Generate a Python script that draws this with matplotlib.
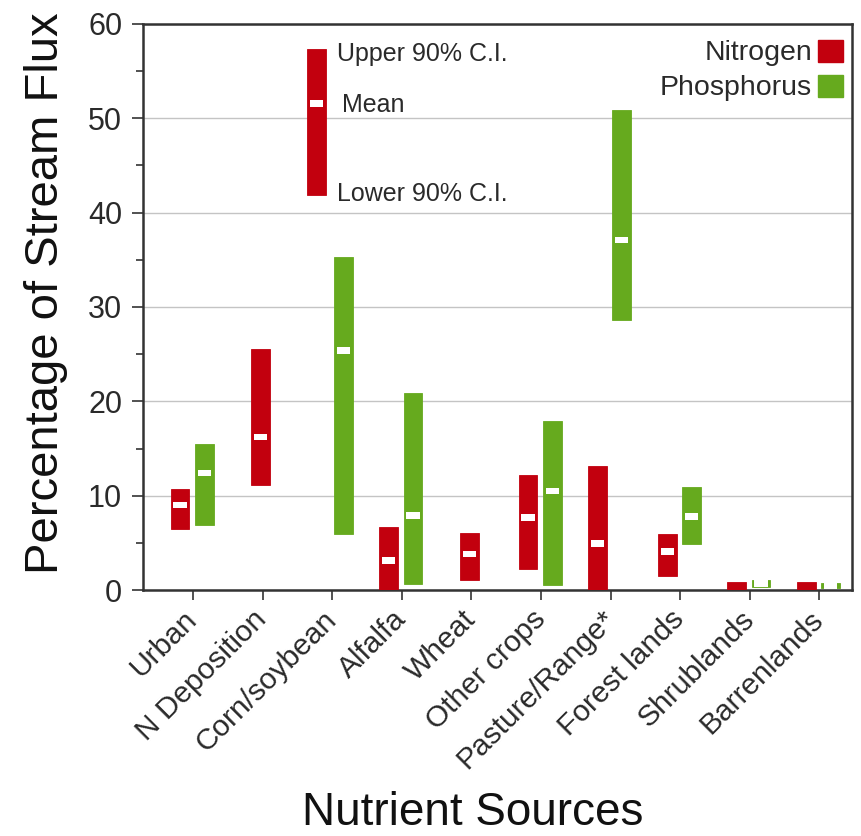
import matplotlib
matplotlib.use("Agg")
import matplotlib.pyplot as plt
from matplotlib.patches import Rectangle
import numpy as np

plt.rcParams['font.family'] = ['Liberation Sans', 'DejaVu Sans']

categories = ["Urban", "N Deposition", "Corn/soybean", "Alfalfa", "Wheat",
              "Other crops", "Pasture/Range*", "Forest lands", "Shrublands", "Barrenlands"]

# Nitrogen: lower 90% CI, mean, upper 90% CI (None = not a source)
n_low  = [6.5, 11.1, None, 0.0, 1.1, 2.2, 0.0, 1.5, 0.0, 0.0]
n_mean = [9.0, 16.2, None, 3.1, 3.8, 7.7, 4.9, 4.1, None, None]
n_high = [10.7, 25.6, None, 6.7, 6.0, 12.2, 13.1, 5.9, 0.9, 0.85]

# Phosphorus
p_low  = [6.9, None, 5.9, 0.6, None, 0.5, 28.6, 4.85, 0.3, 0.25]
p_mean = [12.4, None, 25.4, 7.9, None, 10.5, 37.1, 7.8, 0.7, 0.5]
p_high = [15.5, None, 35.3, 20.9, None, 17.9, 50.9, 10.95, 1.05, 0.7]

# Key example bar
key_low, key_mean, key_high = 41.9, 51.6, 57.4
key_labels = ["Upper 90% C.I.", "Mean", "Lower 90% C.I."]

series_names = ["Nitrogen", "Phosphorus"]
RED = "#C2000E"
GREEN = "#66AA1E"

fig = plt.figure(figsize=(8.61, 8.36), dpi=100)
ax = fig.add_axes([143/861, 1-590/836, (852-143)/861, (590-24)/836])

W = 0.27
MW = 0.19
MH = 0.7

def draw_bar(x, lo, mu, hi, color):
    ax.add_patch(Rectangle((x - W/2, lo), W, hi - lo, facecolor=color,
                           edgecolor=color, lw=0.6, zorder=3))
    if mu is not None:
        ax.add_patch(Rectangle((x - MW/2, mu - MH/2), MW, MH, facecolor="white",
                               edgecolor="none", zorder=4))

for i in range(len(categories)):
    has_n = n_high[i] is not None
    has_p = p_high[i] is not None
    if has_n and has_p:
        xn, xp = i - 0.187, i + 0.16
    else:
        xn, xp = i - 0.03, i + 0.16
    if has_n:
        draw_bar(xn, n_low[i], n_mean[i], n_high[i], RED)
    if has_p:
        draw_bar(xp, p_low[i], p_mean[i], p_high[i], GREEN)

# key bar
kx = 1.77
draw_bar(kx, key_low, key_mean, key_high, RED)
tcol = "#2a2a2a"
ax.text(kx + 0.3, key_high - 0.6, key_labels[0], fontsize=18, color=tcol,
        va="center", ha="left")
ax.text(kx + 0.37, key_mean - 0.2, key_labels[1], fontsize=18, color=tcol,
        va="center", ha="left")
ax.text(kx + 0.3, key_low + 0.05, key_labels[2], fontsize=18, color=tcol,
        va="center", ha="left")

# legend (text with square on right)
for j, (name, col) in enumerate(zip(series_names, [RED, GREEN])):
    yy = 1 - (51 + 35*j - 24) / 566
    ax.text(1 - (852-812)/709, yy - 2/566, name, transform=ax.transAxes, fontsize=20.5,
            ha="right", va="center", color=tcol)
    ax.add_patch(Rectangle((1 - (852-818)/709, yy - 11/566), 25/709, 22/566,
                           transform=ax.transAxes, facecolor=col, edgecolor=col,
                           zorder=5, clip_on=False))

ax.set_xlim(-0.718, 9.468)
ax.set_ylim(0, 60)
ax.set_yticks(np.arange(0, 61, 10))
ax.set_yticks(np.arange(5, 60, 10), minor=True)
ax.yaxis.grid(True, color="#C4C4C4", lw=1.0, zorder=0)
ax.set_axisbelow(True)
ax.set_xticks(range(len(categories)))
ax.set_xticklabels(categories, rotation=45, ha="right", va="center",
                   rotation_mode="anchor", fontsize=21.5)
ax.tick_params(axis="y", which="major", length=8, width=1.2, labelsize=22, pad=7,
               colors="#333333", labelcolor=tcol)
ax.tick_params(axis="y", which="minor", length=5, width=1.2, colors="#333333")
ax.tick_params(axis="x", length=7, width=1.2, pad=11, colors="#333333",
               labelcolor=tcol)
for s in ax.spines.values():
    s.set_linewidth(1.8)
    s.set_color("#333333")

ax.set_ylabel("Percentage of Stream Flux", fontsize=34, color="#111111")
ax.yaxis.set_label_coords((68 - 143) / 709, (590 - 293) / 566)
ax.set_xlabel("Nutrient Sources", fontsize=33, color="#111111", va="baseline")
ax.xaxis.set_label_coords((473 - 143) / 709, (590 - 825) / 566)

fig.savefig("out.png", dpi=100)
